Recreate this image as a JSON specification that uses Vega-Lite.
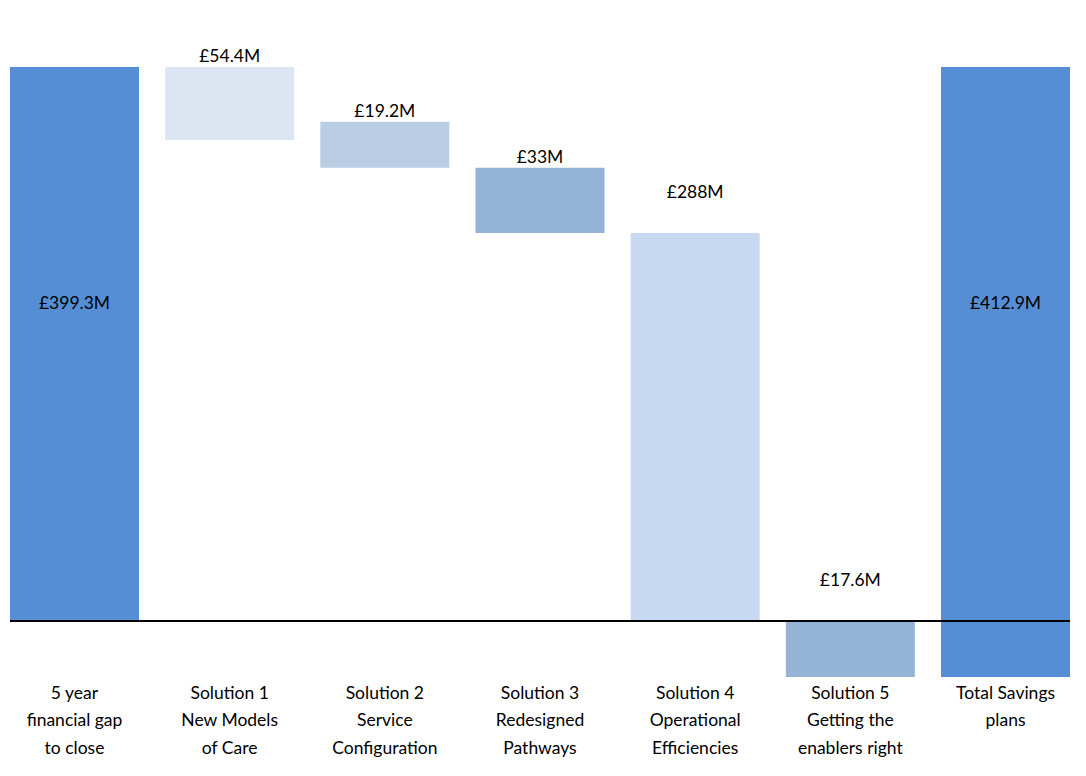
{
  "$schema": "https://vega.github.io/schema/vega-lite/v6.json",
  "width": 1060,
  "height": 677,
  "autosize": {"type": "none"},
  "padding": {"left": 10, "top": 0, "right": 16, "bottom": 99},
  "background": "white",
  "config": {"view": {"stroke": null}, "font": "Lato", "text": {"font": "Lato"}},
  "data": {
    "values": [
      {"category": "5 year\nfinancial gap\nto close", "top": 399.3, "bottom": 0, "label": "£399.3M"},
      {"category": "Solution 1\nNew Models\nof Care", "top": 399.3, "bottom": 346.7, "label": "£54.4M"},
      {"category": "Solution 2\nService\nConfiguration", "top": 359.9, "bottom": 326.7, "label": "£19.2M"},
      {"category": "Solution 3\nRedesigned\nPathways", "top": 326.7, "bottom": 279.7, "label": "£33M"},
      {"category": "Solution 4\nOperational\nEfficiencies", "top": 279.7, "bottom": 0, "label": "£288M"},
      {"category": "Solution 5\nGetting the\nenablers right", "top": 0, "bottom": -40.4, "label": "£17.6M"},
      {"category": "Total Savings\nplans", "top": 399.3, "bottom": -40.4, "label": "£412.9M"}
    ]
  },
  "layer": [
    {
      "mark": {"type": "bar"},
      "encoding": {
        "x": {
          "field": "category", "type": "nominal", "sort": null,
          "scale": {"paddingInner": 0.1686, "paddingOuter": 0},
          "axis": {
            "title": null, "domain": false, "ticks": false, "labelAngle": 0,
            "labelFont": "Lato", "labelFontSize": 17.5, "labelColor": "black",
            "labelPadding": 7, "labelLineHeight": 27.5, "labelBaseline": "top",
            "labelLimit": 300,
            "labelExpr": "split(datum.value, '\\n')"
          }
        },
        "y": {
          "field": "top", "type": "quantitative",
          "scale": {"domain": [-40.4, 447.6], "nice": false, "zero": false},
          "axis": null
        },
        "y2": {"field": "bottom"},
        "color": {
          "field": "category", "type": "nominal", "sort": null, "legend": null,
          "scale": {
            "domain": [
              "5 year\nfinancial gap\nto close",
              "Solution 1\nNew Models\nof Care",
              "Solution 2\nService\nConfiguration",
              "Solution 3\nRedesigned\nPathways",
              "Solution 4\nOperational\nEfficiencies",
              "Solution 5\nGetting the\nenablers right",
              "Total Savings\nplans"
            ],
            "range": ["#558ED5", "#DCE6F2", "#B9CDE5", "#95B3D7", "#C6D9F1", "#95B3D7", "#558ED5"]
          }
        }
      }
    },
    {
      "mark": {"type": "rule", "color": "black", "strokeWidth": 2},
      "encoding": {"y": {"datum": 0, "type": "quantitative"}}
    },
    {
      "transform": [{"filter": {"field": "category", "oneOf": ["5 year\nfinancial gap\nto close", "Total Savings\nplans"]}}],
      "mark": {"type": "text", "fontSize": 17.5, "color": "black", "baseline": "alphabetic", "dy": 242},
      "encoding": {
        "x": {"field": "category", "type": "nominal", "sort": null, "band": 0.5},
        "y": {"field": "top", "type": "quantitative"},
        "text": {"field": "label"}
      }
    },
    {
      "transform": [{"filter": {"field": "category", "oneOf": ["Solution 1\nNew Models\nof Care", "Solution 2\nService\nConfiguration", "Solution 3\nRedesigned\nPathways"]}}],
      "mark": {"type": "text", "fontSize": 17.5, "color": "black", "baseline": "alphabetic", "dy": -5},
      "encoding": {
        "x": {"field": "category", "type": "nominal", "sort": null, "band": 0.5},
        "y": {"field": "top", "type": "quantitative"},
        "text": {"field": "label"}
      }
    },
    {
      "transform": [{"filter": {"field": "category", "oneOf": ["Solution 4\nOperational\nEfficiencies", "Solution 5\nGetting the\nenablers right"]}}],
      "mark": {"type": "text", "fontSize": 17.5, "color": "black", "baseline": "alphabetic", "dy": -35},
      "encoding": {
        "x": {"field": "category", "type": "nominal", "sort": null, "band": 0.5},
        "y": {"field": "top", "type": "quantitative"},
        "text": {"field": "label"}
      }
    }
  ]
}
